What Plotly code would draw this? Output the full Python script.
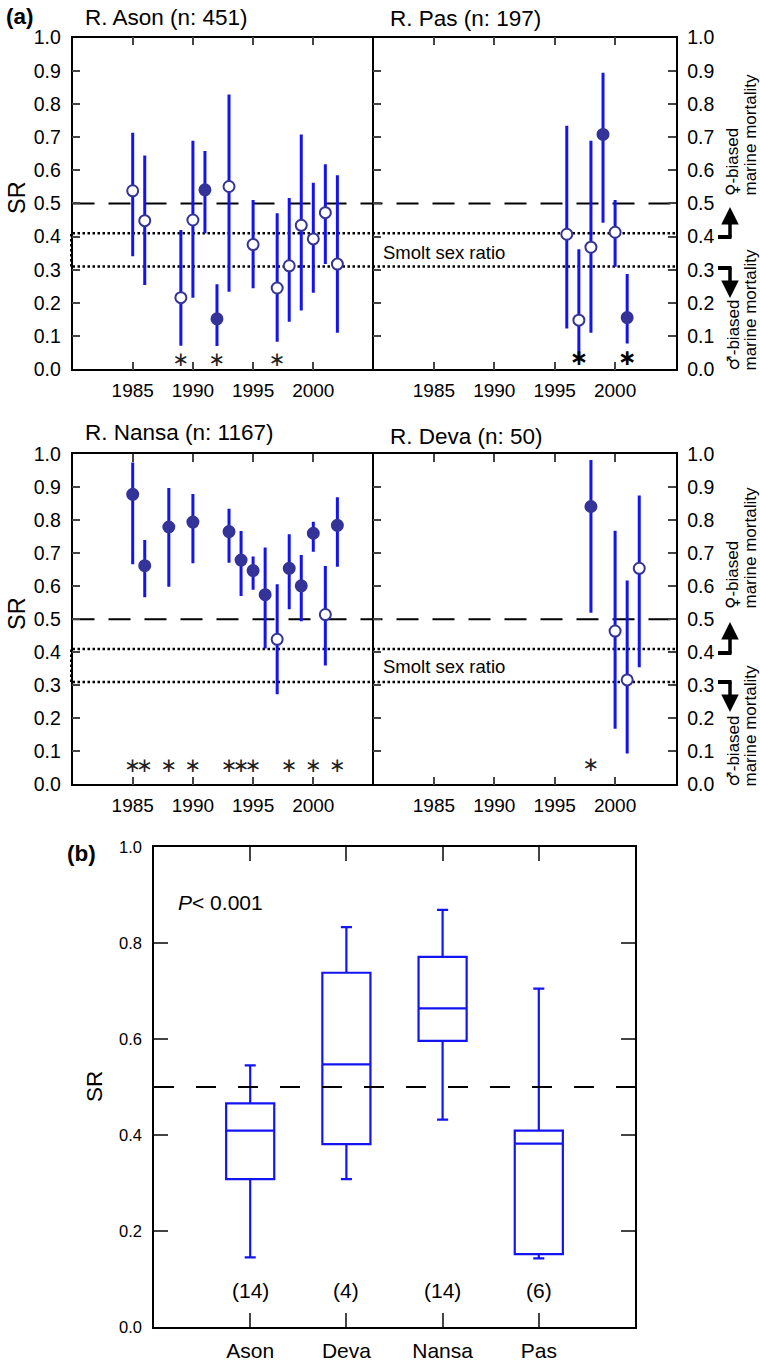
import plotly.graph_objects as go

# ---------------- data: panel (a) ----------------
ason_year = [1985, 1986, 1989, 1990, 1991, 1992, 1993, 1995, 1997, 1998, 1999, 2000, 2001, 2002]
ason_sr = [0.538, 0.448, 0.216, 0.450, 0.541, 0.152, 0.551, 0.376, 0.245, 0.312, 0.434, 0.393, 0.472, 0.317]
ason_hi = [0.713, 0.644, 0.420, 0.689, 0.658, 0.256, 0.828, 0.510, 0.470, 0.516, 0.708, 0.562, 0.618, 0.585]
ason_lo = [0.341, 0.254, 0.071, 0.216, 0.410, 0.070, 0.234, 0.244, 0.083, 0.143, 0.177, 0.231, 0.317, 0.110]
ason_sig = [0, 0, 0, 0, 1, 1, 0, 0, 0, 0, 0, 0, 0, 0]
ason_star = [1989, 1992, 1997]

pas_year = [1996, 1997, 1998, 1999, 2000, 2001]
pas_sr = [0.407, 0.148, 0.368, 0.708, 0.413, 0.156]
pas_hi = [0.734, 0.362, 0.689, 0.894, 0.510, 0.287]
pas_lo = [0.123, 0.040, 0.110, 0.442, 0.309, 0.078]
pas_sig = [0, 0, 0, 1, 0, 1]
pas_star = [1997, 2001]

nansa_year = [1985, 1986, 1988, 1990, 1993, 1994, 1995, 1996, 1997, 1998, 1999, 2000, 2001, 2002]
nansa_sr = [0.878, 0.662, 0.779, 0.794, 0.765, 0.679, 0.647, 0.574, 0.439, 0.654, 0.601, 0.760, 0.514, 0.784]
nansa_hi = [0.974, 0.740, 0.897, 0.879, 0.834, 0.767, 0.690, 0.717, 0.606, 0.757, 0.694, 0.795, 0.661, 0.869]
nansa_lo = [0.666, 0.566, 0.598, 0.669, 0.671, 0.570, 0.589, 0.411, 0.273, 0.530, 0.494, 0.704, 0.360, 0.659]
nansa_sig = [1, 1, 1, 1, 1, 1, 1, 1, 0, 1, 1, 1, 0, 1]
nansa_star = [1985, 1986, 1988, 1990, 1993, 1994, 1995, 1998, 2000, 2002]

deva_year = [1998, 2000, 2001, 2002]
deva_sr = [0.841, 0.464, 0.316, 0.654]
deva_hi = [0.982, 0.768, 0.617, 0.874]
deva_lo = [0.519, 0.168, 0.093, 0.354]
deva_sig = [1, 0, 0, 0]
deva_star = [1998]

river_titles = ["R. Ason (n: 451)", "R. Pas (n: 197)", "R. Nansa (n: 1167)", "R. Deva (n: 50)"]
smolt_band = [0.31, 0.41]
parity = 0.5
year_ticks = [1985, 1990, 1995, 2000]

# ---------------- data: panel (b) ----------------
box_cat = ["Ason", "Deva", "Nansa", "Pas"]
box_low = [0.145, 0.308, 0.432, 0.143]
box_q1 = [0.308, 0.381, 0.596, 0.152]
box_med = [0.409, 0.547, 0.664, 0.382]
box_q3 = [0.466, 0.738, 0.771, 0.409]
box_high = [0.545, 0.833, 0.869, 0.705]
box_n = [14, 4, 14, 6]

# ---------------- styling ----------------
W, H = 760, 1362
FONT = "Liberation Sans, Arial, Helvetica, sans-serif"
NAVY = "#33339a"
BLUE = "#1414f0"


def px(x):
    return x / W


def py(y):
    return 1 - y / H


fig = go.Figure()

panels = [
    dict(year=ason_year, sr=ason_sr, hi=ason_hi, lo=ason_lo, sig=ason_sig, star=ason_star,
         ax="", star_y=0.026, bold=False),
    dict(year=pas_year, sr=pas_sr, hi=pas_hi, lo=pas_lo, sig=pas_sig, star=pas_star,
         ax="2", star_y=0.03, bold=True),
    dict(year=nansa_year, sr=nansa_sr, hi=nansa_hi, lo=nansa_lo, sig=nansa_sig, star=nansa_star,
         ax="3", star_y=0.053, bold=False),
    dict(year=deva_year, sr=deva_sr, hi=deva_hi, lo=deva_lo, sig=deva_sig, star=deva_star,
         ax="4", star_y=0.055, bold=False),
]

for p in panels:
    xa, ya = "x" + p["ax"], "y" + p["ax"]
    fig.add_trace(go.Scatter(
        x=p["year"], y=p["sr"], mode="markers", xaxis=xa, yaxis=ya, showlegend=False,
        marker=dict(size=11, color=[NAVY if s else "white" for s in p["sig"]],
                    line=dict(color=NAVY, width=2)),
        error_y=dict(type="data", symmetric=False,
                     array=[h - v for h, v in zip(p["hi"], p["sr"])],
                     arrayminus=[v - l for v, l in zip(p["sr"], p["lo"])],
                     thickness=3, width=0, color=BLUE),
        cliponaxis=False,
    ))
    fig.add_trace(go.Scatter(
        x=p["star"], y=[p["star_y"]] * len(p["star"]), mode="text", xaxis=xa, yaxis=ya,
        text=["∗"] * len(p["star"]), textposition="middle center", showlegend=False,
        textfont=dict(size=22 if p["bold"] else 20, color="black" if p["bold"] else "#222222",
                      family="DejaVu Sans",
                      weight="bold" if p["bold"] else "normal"),
    ))

# box plot (b)
fig.add_trace(go.Box(
    x=box_cat, q1=box_q1, median=box_med, q3=box_q3, lowerfence=box_low, upperfence=box_high,
    xaxis="x5", yaxis="y5", width=0.5, whiskerwidth=0.23, boxpoints=False,
    line=dict(color=BLUE, width=2.2), fillcolor="rgba(0,0,0,0)", showlegend=False,
))

# ---------------- axes ----------------
top_y = [py(369.3), py(37.5)]
bot_y = [py(784.3), py(454)]
left_x = [px(72.5), px(373.5)]
right_x = [px(373.5), px(675.5)]

xcommon = dict(range=[1980, 2005], tickvals=year_ticks, ticks="inside", ticklen=8, tickwidth=1.5,
               showline=True, linecolor="black", linewidth=1.5, mirror="ticks", showgrid=False,
               zeroline=False, tickfont=dict(size=19, color="black"), ticklabelstandoff=3,
               automargin=False)
ycommon = dict(range=[0, 1], dtick=0.1, tick0=0, tickformat=".1f", ticks="inside", ticklen=8,
               tickwidth=1.5, showline=True, linecolor="black", linewidth=1.5, showgrid=False,
               zeroline=False, tickfont=dict(size=19.5, color="black"), ticklabelstandoff=6,
               automargin=False)

layout_axes = {}
for ax, xd, yd, side in [("", left_x, top_y, "left"), ("2", right_x, top_y, "right"),
                         ("3", left_x, bot_y, "left"), ("4", right_x, bot_y, "right")]:
    layout_axes["xaxis" + ax] = dict(xcommon, domain=xd, anchor="y" + ax)
    layout_axes["yaxis" + ax] = dict(ycommon, domain=yd, anchor="x" + ax, side=side,
                                     mirror="ticks" if side == "right" else False)

layout_axes["xaxis5"] = dict(domain=[px(154), px(635)], anchor="y5", type="category",
                             categoryorder="array", categoryarray=box_cat, range=[-1, 4],
                             ticks="inside", ticklen=14, tickwidth=1.5, showline=True,
                             linecolor="black", linewidth=1.5, mirror="ticks", showgrid=False,
                             zeroline=False, tickfont=dict(size=21, color="black"),
                             ticklabelstandoff=4, automargin=False)
layout_axes["yaxis5"] = dict(domain=[py(1327), py(847)], anchor="x5", range=[0, 1], dtick=0.2,
                             tickformat=".1f", ticks="inside", ticklen=14, tickwidth=1.5,
                             showline=True, linecolor="black", linewidth=1.5, mirror="ticks",
                             showgrid=False, zeroline=False, tickfont=dict(size=16.5, color="black"),
                             ticklabelstandoff=7, automargin=False)

# ---------------- shapes ----------------
shapes = []
for ya in ["y", "y3"]:
    shapes.append(dict(type="line", xref="paper", yref=ya, x0=px(72.5), x1=px(675.5),
                       y0=parity, y1=parity, line=dict(color="black", width=2, dash="22px,14px"),
                       layer="below"))
    for v in smolt_band:
        shapes.append(dict(type="line", xref="paper", yref=ya, x0=px(72.5), x1=px(675.5),
                           y0=v, y1=v, line=dict(color="black", width=2.5, dash="2.5px,2.5px"),
                           layer="below"))
    for xe in [71, 677]:
        shapes.append(dict(type="line", xref="paper", yref=ya, x0=px(xe), x1=px(xe),
                           y0=smolt_band[0], y1=smolt_band[1],
                           line=dict(color="black", width=2, dash="2.5px,2.5px")))
shapes.append(dict(type="line", xref="x5 domain", yref="y5", x0=0, x1=1, y0=parity, y1=parity,
                   line=dict(color="black", width=2.2, dash="20px,22px")))

# L-shaped arrow stubs
for yh_up, yh_dn in [(237, 268), (653, 682)]:
    shapes.append(dict(type="line", xref="paper", yref="paper", x0=px(718), x1=px(731.5),
                       y0=py(yh_up), y1=py(yh_up), line=dict(color="black", width=4)))
    shapes.append(dict(type="line", xref="paper", yref="paper", x0=px(718), x1=px(731.5),
                       y0=py(yh_dn), y1=py(yh_dn), line=dict(color="black", width=4)))

# ---------------- annotations ----------------
ann = []


def text(t, x, y, size, xanchor="left", yanchor="middle", angle=0, **kw):
    ann.append(dict(text=t, x=px(x), y=py(y), xref="paper", yref="paper", showarrow=False,
                    xanchor=xanchor, yanchor=yanchor, textangle=angle, borderpad=0,
                    font=dict(size=size, color="black", family=kw.pop("family", FONT)), **kw))


text("<b>(a)</b>", 5, 17, 22.5)
text(river_titles[0], 84, 18, 22.5)
text(river_titles[1], 389, 19, 22.5)
text(river_titles[2], 84, 433, 22.5)
text(river_titles[3], 389, 437, 22.5)
text("SR", 17, 198, 23.5, xanchor="center", angle=-90)
text("SR", 17, 614, 23.5, xanchor="center", angle=-90)
text("Smolt sex ratio", 382, 252, 18.5)
text("Smolt sex ratio", 382, 667, 18.5)

FEM = "<span style='font-family:DejaVu Sans'>♀</span>-biased"
MAL = "<span style='font-family:DejaVu Sans'>♂</span>-biased"
for top, bottom in [(197, 372), (610, 788)]:
    text(FEM, 732, top, 17, xanchor="center", yanchor="bottom", angle=-90)
    text("marine mortality", 750, top, 17, xanchor="center", yanchor="bottom", angle=-90)
    text(MAL, 732, bottom, 17, xanchor="center", yanchor="bottom", angle=-90)
    text("marine mortality", 750, bottom, 17, xanchor="center", yanchor="bottom", angle=-90)

for tip_up, base_up, tip_dn, base_dn in [(207, 239, 298, 266), (622, 655, 712, 680)]:
    ann.append(dict(text="", x=px(730), y=py(tip_up), xref="paper", yref="paper",
                    ax=0, ay=base_up - tip_up, showarrow=True, arrowhead=2, arrowsize=1,
                    arrowwidth=3.5, arrowcolor="black"))
    ann.append(dict(text="", x=px(730), y=py(tip_dn), xref="paper", yref="paper",
                    ax=0, ay=base_dn - tip_dn, showarrow=True, arrowhead=2, arrowsize=1,
                    arrowwidth=3.5, arrowcolor="black"))

text("<b>(b)</b>", 66, 853, 22.5)
text("<i>P</i>&lt; 0.001", 177, 902, 21)
text("SR", 94, 1087, 22.5, xanchor="center", angle=-90)
for c, n in zip(box_cat, box_n):
    ann.append(dict(text=f"({n})", x=c, y=0.077, xref="x5", yref="y5", showarrow=False,
                    font=dict(size=21, color="black", family=FONT)))

fig.update_layout(
    width=W, height=H, margin=dict(l=0, r=0, t=0, b=0, pad=0, autoexpand=False),
    paper_bgcolor="white", plot_bgcolor="white",
    font=dict(family=FONT, color="black"),
    shapes=shapes, annotations=ann, showlegend=False, hovermode=False,
    **layout_axes,
)

fig.write_html("out.html", config={"displayModeBar": False},
               post_script="document.body.style.margin='0';document.body.style.padding='0';")
